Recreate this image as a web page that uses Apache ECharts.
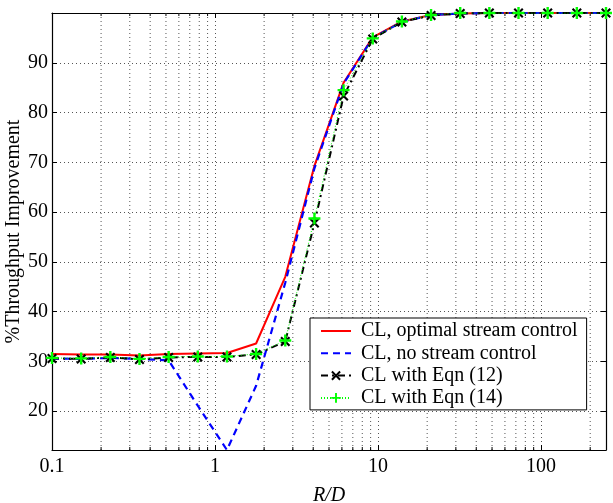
<!DOCTYPE html>
<html><head><meta charset="utf-8">
<script src="https://cdn.jsdelivr.net/npm/echarts@6/dist/echarts.min.js"></script>
<style>html,body{margin:0;padding:0;background:#fff}#c{width:613px;height:503px}</style>
</head><body><div id="c"></div>
<script>
// R/D sample points (log-spaced)
const xValues = [0.1, 0.151, 0.2279, 0.344, 0.5193, 0.7838, 1.1832, 1.786, 2.696, 4.07, 6.143, 9.273, 13.997, 21.13, 31.89, 48.14, 72.67, 109.7, 165.6, 250];
const optimalControl = [31.5, 31.4, 31.4, 31.2, 31.5, 31.6, 31.7, 33.6, 47.0, 69.3, 86.0, 95.1, 98.3, 99.6, 99.9, 100, 100, 100, 100, 100];
const noControl      = [30.6, 30.5, 30.7, 30.5, 30.2, 21.1, 12.2, 25.1, 45.8, 68.8, 85.8, 95.0, 98.2, 99.6, 99.9, 100, 100, 100, 100, 100];
const eqn12          = [30.6, 30.5, 30.8, 30.4, 30.8, 30.9, 30.9, 31.4, 34.0, 57.8, 83.3, 94.8, 98.2, 99.5, 99.9, 100, 100, 100, 100, 100];
const eqn14          = [30.7, 30.6, 30.9, 30.5, 30.9, 31.0, 31.0, 31.5, 34.2, 58.7, 84.5, 94.9, 98.3, 99.6, 100, 100, 100, 100, 100, 100];
const seriesNames = ['CL, optimal stream control', 'CL, no stream control', 'CL with Eqn (12)', 'CL with Eqn (14)'];
const minorGridX = [0.2,0.3,0.4,0.5,0.6,0.7,0.8,0.9,2,3,4,5,6,7,8,9,20,30,40,50,60,70,80,90,200];
const xTickLabels = ['0.1','1','10','100'];
const yTickLabels = [20,30,40,50,60,70,80,90];

const yMin = 12.2, yMax = 100, xMin = 0.1, xMax = 250;
const FONT = 'Liberation Serif';
const FS = 20;
const pts = arr => xValues.map((x, i) => [x, arr[i]]);
const X_SYM = 'path://M0,1.5L1.5,0L5,3.5L8.5,0L10,1.5L6.5,5L10,8.5L8.5,10L5,6.5L1.5,10L0,8.5L3.5,5Z';
const P_SYM = 'path://M4,0H6V4H10V6H6V10H4V6H0V4H4Z';

const chart = echarts.init(document.getElementById('c'), null, {renderer: 'canvas'});
const gridLine = {type: [1, 3], color: '#555', width: 1};
const logFmt = v => {
  const l = Math.log10(v), r = Math.round(l);
  if (Math.abs(l - r) > 1e-6) return '';
  const s = String(+Math.pow(10, r).toPrecision(3));
  return xTickLabels.indexOf(s) >= 0 ? s : '';
};
const yFmt = v => {
  const r = Math.round(v);
  return (Math.abs(v - r) < 1e-6 && yTickLabels.indexOf(r) >= 0) ? String(r) : '';
};
const option = {
  animation: false,
  backgroundColor: '#fff',
  grid: {left: 52, top: 13, right: 7, bottom: 53, outerBoundsMode: 'none', containLabel: false},
  xAxis: [{
    type: 'log', logBase: 10, min: xMin, max: xMax, position: 'bottom',
    axisLine: {show: true, lineStyle: {color: '#000', width: 1.2}},
    axisTick: {show: true, inside: true, length: 5, lineStyle: {color: '#000'}},
    axisLabel: {fontFamily: FONT, fontSize: FS, color: '#000', margin: 7, formatter: logFmt, showMaxLabel: false},
    splitLine: {show: true, lineStyle: gridLine},
    name: 'R/D', nameLocation: 'middle', nameGap: 36, nameMoveOverlap: false,
    nameTextStyle: {fontFamily: FONT, fontSize: FS, fontStyle: 'italic', color: '#000'}
  }, {
    type: 'log', logBase: 10, min: xMin, max: xMax, position: 'top',
    axisLine: {show: true, lineStyle: {color: '#000', width: 1.2}},
    axisTick: {show: true, inside: true, length: 5, lineStyle: {color: '#000'}},
    axisLabel: {show: false}, splitLine: {show: false}
  }],
  yAxis: [{
    type: 'value', min: yMin, max: yMax, splitNumber: 9, position: 'left',
    axisLine: {show: true, lineStyle: {color: '#000', width: 1.2}},
    axisTick: {show: true, inside: true, length: 5, lineStyle: {color: '#000'}},
    axisLabel: {fontFamily: FONT, fontSize: FS, color: '#000', margin: 4, formatter: yFmt, showMinLabel: false, showMaxLabel: false},
    splitLine: {show: true, lineStyle: gridLine},
    name: '%Throughput Improvement', nameLocation: 'middle', nameGap: 28, nameMoveOverlap: false,
    nameTextStyle: {fontFamily: FONT, fontSize: FS, color: '#000'}
  }, {
    type: 'value', min: yMin, max: yMax, splitNumber: 9, position: 'right',
    axisLine: {show: true, lineStyle: {color: '#000', width: 1.2}},
    axisTick: {show: true, inside: true, length: 5, lineStyle: {color: '#000'}},
    axisLabel: {show: false}, splitLine: {show: false}
  }],
  legend: {
    data: [
      {name: seriesNames[0], itemStyle: {opacity: 0}},
      {name: seriesNames[1], itemStyle: {opacity: 0}},
      {name: seriesNames[2]},
      {name: seriesNames[3]}
    ],
    orient: 'vertical', left: 310, top: 318,
    backgroundColor: '#fff', borderColor: '#000', borderWidth: 1,
    padding: [3, 9, 2, 10], itemWidth: 30, itemHeight: 12, itemGap: 2.3,
    textStyle: {fontFamily: FONT, fontSize: FS, color: '#000', lineHeight: 20, padding: [0, 0, 0, 5]}
  },
  series: [{
    type: 'custom', name: 'minor', silent: true, z: 1,
    data: minorGridX.map(v => [v, yMin]),
    encode: {x: 0, y: 1},
    renderItem: (params, api) => {
      const v = api.value(0);
      const b = api.coord([v, yMin]), t = api.coord([v, yMax]);
      return {type: 'group', children: [
        {type: 'line', shape: {x1: b[0], y1: b[1], x2: t[0], y2: t[1]}, style: {stroke: '#555', lineWidth: 1, lineDash: [1, 3]}},
        {type: 'line', shape: {x1: b[0], y1: b[1], x2: b[0], y2: b[1] - 3}, style: {stroke: '#000', lineWidth: 1}},
        {type: 'line', shape: {x1: t[0], y1: t[1], x2: t[0], y2: t[1] + 3}, style: {stroke: '#000', lineWidth: 1}}
      ]};
    }
  }, {
    name: seriesNames[0], type: 'line', data: pts(optimalControl), z: 3,
    showSymbol: false, symbol: 'none',
    lineStyle: {color: '#ff0000', width: 2}, itemStyle: {color: '#ff0000'}
  }, {
    name: seriesNames[1], type: 'line', data: pts(noControl), z: 4,
    showSymbol: false, symbol: 'none',
    lineStyle: {color: '#0000ff', width: 2.2, type: [7, 5]}, itemStyle: {color: '#0000ff'}
  }, {
    name: seriesNames[2], type: 'line', data: pts(eqn12), z: 5,
    symbol: X_SYM, symbolSize: 10,
    lineStyle: {color: '#000', width: 2, type: [7, 4, 2, 4]}, itemStyle: {color: '#000'}
  }, {
    name: seriesNames[3], type: 'line', data: pts(eqn14), z: 6,
    symbol: P_SYM, symbolSize: 12,
    lineStyle: {color: '#00ff00', width: 1, type: [1, 2]}, itemStyle: {color: '#00ff00'}
  }]
};
chart.setOption(option);
</script></body></html>
